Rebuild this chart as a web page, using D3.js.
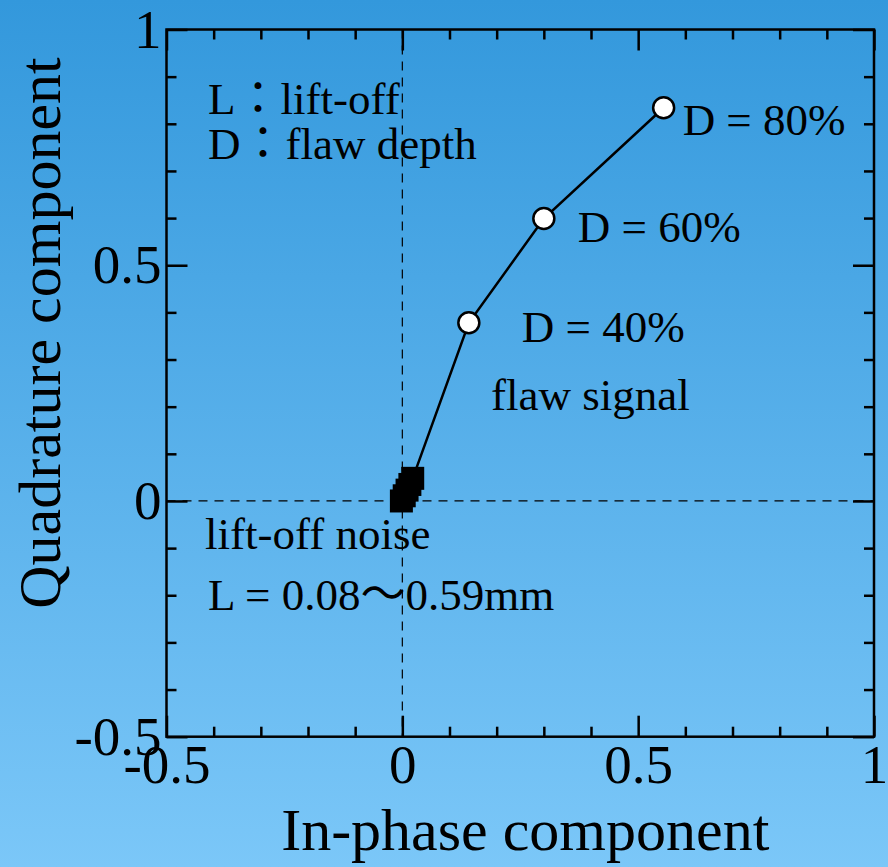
<!DOCTYPE html>
<html>
<head>
<meta charset="utf-8">
<script src="https://cdn.jsdelivr.net/npm/d3@7/dist/d3.min.js"></script>
<style>
  html, body { margin: 0; padding: 0; }
  svg { display: block; }
  text { font-family: "Liberation Serif", "Times New Roman", "Noto Sans CJK JP", serif; fill: #000; }
</style>
</head>
<body>
<svg id="chart" width="888" height="867"></svg>
<script>
// Lift-off noise points (in-phase, quadrature)
const noiseX = [-0.002, 0.004, 0.010, 0.016, 0.022];
const noiseY = [0.000, 0.011, 0.023, 0.035, 0.048];

// Flaw signal points for each flaw depth
const flawDepths = ["D = 40%", "D = 60%", "D = 80%"];
const flawX = [0.141, 0.300, 0.554];
const flawY = [0.378, 0.599, 0.834];

// Axis ticks
const majorTicks = [-0.5, 0, 0.5, 1];
const majorTickLabels = ["-0.5", "0", "0.5", "1"];
const minorTicks = [-0.4, -0.3, -0.2, -0.1, 0.1, 0.2, 0.3, 0.4, 0.6, 0.7, 0.8, 0.9];

const svg = d3.select("#chart");
const W = 888, H = 867;
const plot = { left: 166.5, right: 874, top: 29.5, bottom: 736.7 };

// Background gradient
const defs = svg.append("defs");
const grad = defs.append("linearGradient").attr("id", "bg").attr("x1", 0).attr("y1", 0).attr("x2", 0).attr("y2", 1);
grad.append("stop").attr("offset", 0).attr("stop-color", "#3398dc");
grad.append("stop").attr("offset", 1).attr("stop-color", "#7bc7f8");
svg.append("rect").attr("width", W).attr("height", H).attr("fill", "url(#bg)");

const x = d3.scaleLinear().domain([-0.5, 1]).range([plot.left, plot.right]);
const y = d3.scaleLinear().domain([-0.5, 1]).range([plot.bottom, plot.top]);

const fmt = d => majorTickLabels[majorTicks.indexOf(d)];

// Zero reference lines
svg.append("line")
  .attr("x1", x(0)).attr("x2", x(0)).attr("y1", plot.top).attr("y2", plot.bottom)
  .attr("stroke", "#000").attr("stroke-width", 1.2).attr("stroke-dasharray", "9,7");
svg.append("line")
  .attr("x1", plot.left).attr("x2", plot.right).attr("y1", y(0)).attr("y2", y(0))
  .attr("stroke", "#000").attr("stroke-width", 1.2).attr("stroke-dasharray", "9,7");

// Axes: major ticks with labels, minor ticks without, mirrored on top/right
function styleAxis(g, fontSize) {
  g.select(".domain").remove();
  g.selectAll(".tick line").attr("stroke", "#000").attr("stroke-width", 2.5);
  g.selectAll(".tick text").attr("font-size", fontSize)
    .style("font-family", "'Liberation Serif', 'Times New Roman', serif").attr("fill", "#000");
}

svg.append("g").attr("transform", `translate(0,${plot.bottom})`)
  .call(d3.axisBottom(x).tickValues(majorTicks).tickFormat(fmt).tickSizeInner(-21).tickSizeOuter(0).tickPadding(7))
  .call(g => styleAxis(g, 55));
svg.append("g").attr("transform", `translate(0,${plot.bottom})`)
  .call(d3.axisBottom(x).tickValues(minorTicks).tickFormat("").tickSizeInner(-10).tickSizeOuter(0))
  .call(g => styleAxis(g, 0));
svg.append("g").attr("transform", `translate(0,${plot.top})`)
  .call(d3.axisTop(x).tickValues(majorTicks).tickFormat("").tickSizeInner(-21).tickSizeOuter(0))
  .call(g => styleAxis(g, 0));
svg.append("g").attr("transform", `translate(0,${plot.top})`)
  .call(d3.axisTop(x).tickValues(minorTicks).tickFormat("").tickSizeInner(-10).tickSizeOuter(0))
  .call(g => styleAxis(g, 0));

svg.append("g").attr("transform", `translate(${plot.left},0)`)
  .call(d3.axisLeft(y).tickValues(majorTicks).tickFormat(fmt).tickSizeInner(-21).tickSizeOuter(0).tickPadding(5))
  .call(g => styleAxis(g, 55));
svg.append("g").attr("transform", `translate(${plot.left},0)`)
  .call(d3.axisLeft(y).tickValues(minorTicks).tickFormat("").tickSizeInner(-10).tickSizeOuter(0))
  .call(g => styleAxis(g, 0));
svg.append("g").attr("transform", `translate(${plot.right},0)`)
  .call(d3.axisRight(y).tickValues(majorTicks).tickFormat("").tickSizeInner(-21).tickSizeOuter(0))
  .call(g => styleAxis(g, 0));
svg.append("g").attr("transform", `translate(${plot.right},0)`)
  .call(d3.axisRight(y).tickValues(minorTicks).tickFormat("").tickSizeInner(-10).tickSizeOuter(0))
  .call(g => styleAxis(g, 0));

// Plot frame
svg.append("rect")
  .attr("x", plot.left).attr("y", plot.top)
  .attr("width", plot.right - plot.left).attr("height", plot.bottom - plot.top)
  .attr("fill", "none").attr("stroke", "#000").attr("stroke-width", 2.5);

// Signal trajectory: from the lift-off cluster through the flaw points
const pathPts = [[noiseX[noiseX.length - 1], noiseY[noiseY.length - 1]]]
  .concat(flawX.map((v, i) => [v, flawY[i]]));
svg.append("path")
  .attr("d", d3.line().x(d => x(d[0])).y(d => y(d[1]))(pathPts))
  .attr("fill", "none").attr("stroke", "#000").attr("stroke-width", 2.5);

// Lift-off noise squares
const sq = 23;
svg.append("g").selectAll("rect")
  .data(noiseX.map((v, i) => [v, noiseY[i]]))
  .join("rect")
  .attr("x", d => x(d[0]) - sq / 2).attr("y", d => y(d[1]) - sq / 2)
  .attr("width", sq).attr("height", sq).attr("fill", "#000");

// Flaw circles
svg.append("g").selectAll("circle")
  .data(flawX.map((v, i) => [v, flawY[i]]))
  .join("circle")
  .attr("cx", d => x(d[0])).attr("cy", d => y(d[1])).attr("r", 10.5)
  .attr("fill", "#fff").attr("stroke", "#000").attr("stroke-width", 2.5);

// Depth labels beside each circle
const depthOffsets = [[53, 19], [34, 23], [19, 27]];
svg.append("g").selectAll("text")
  .data(flawDepths)
  .join("text")
  .attr("x", (d, i) => x(flawX[i]) + depthOffsets[i][0])
  .attr("y", (d, i) => y(flawY[i]) + depthOffsets[i][1])
  .attr("font-size", 45)
  .text(d => d);

// Annotations
const ann = [
  { t: "L：lift-off", x: 208, y: 114 },
  { t: "D：flaw depth", x: 208, y: 159 },
  { t: "flaw signal", x: 491, y: 410 },
  { t: "lift-off noise", x: 205, y: 549 },
  { t: "L = 0.08〜0.59mm", x: 208, y: 610 }
];
svg.append("g").selectAll("text")
  .data(ann)
  .join("text")
  .attr("x", d => d.x).attr("y", d => d.y)
  .attr("font-size", 45)
  .text(d => d.t);

// Axis titles
svg.append("text")
  .attr("x", (plot.left + plot.right) / 2 + 5).attr("y", 850)
  .attr("text-anchor", "middle").attr("font-size", 60)
  .text("In-phase component");
svg.append("text")
  .attr("transform", `translate(60,333) rotate(-90)`)
  .attr("text-anchor", "middle").attr("font-size", 60)
  .text("Quadrature component");
</script>
</body>
</html>
